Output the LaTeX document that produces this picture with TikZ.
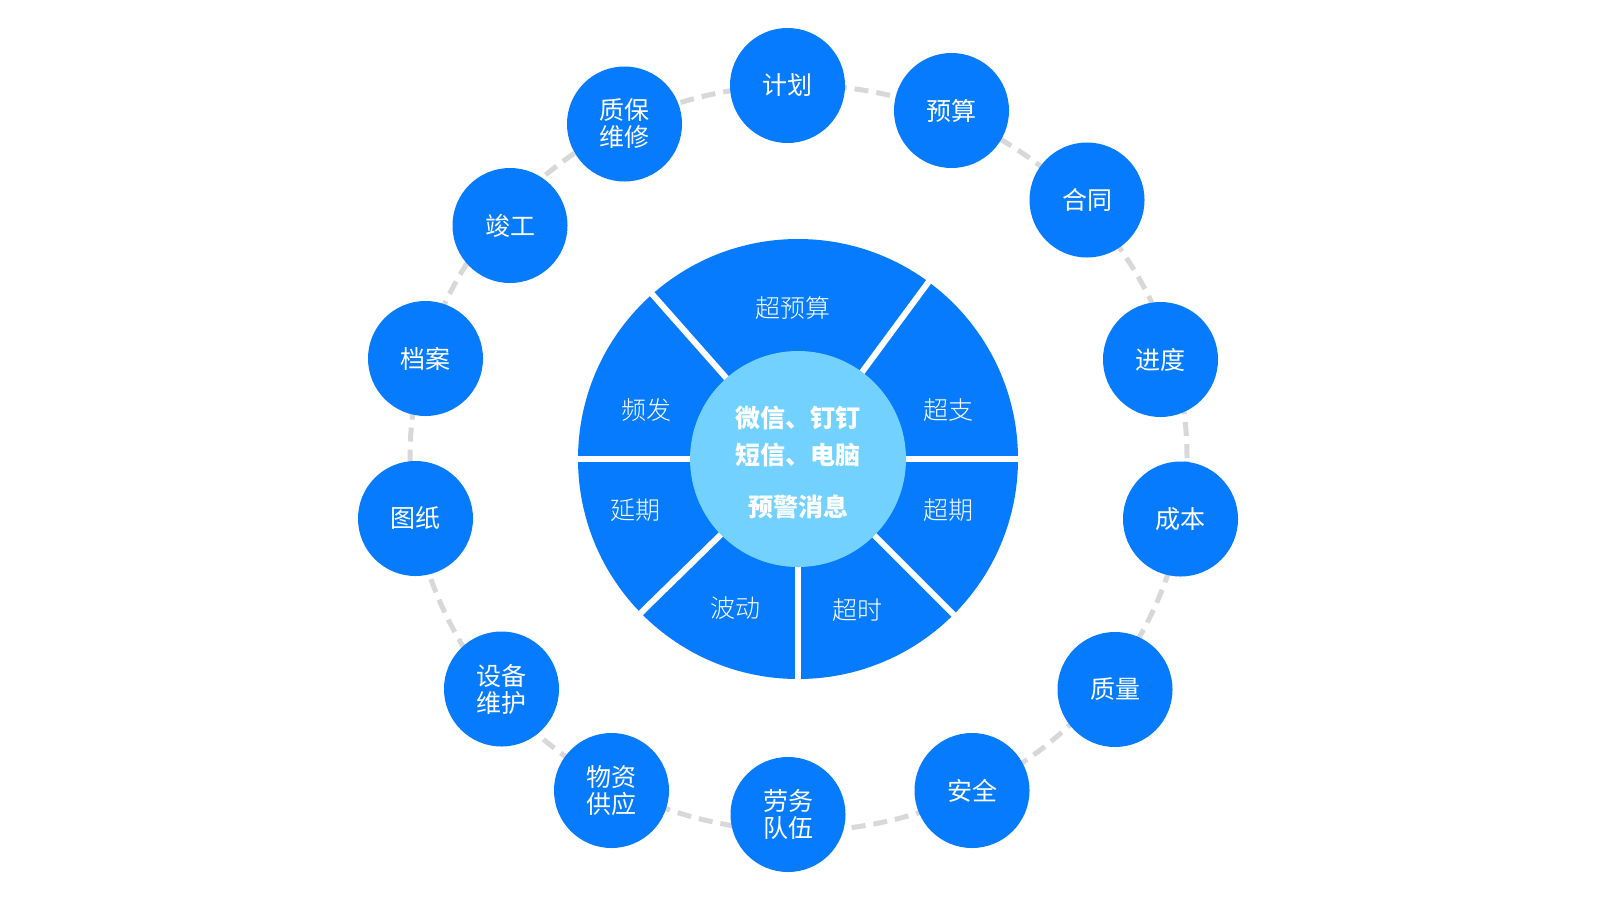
\documentclass[tikz,border=0pt]{standalone}
\usepackage{fontspec}
\newfontfamily\cjk{Noto Sans CJK SC}
\IfFontExistsTF{Noto Sans CJK SC Light}{\newfontfamily\cjkl{Noto Sans CJK SC Light}}{\let\cjkl\cjk}
\definecolor{mainblue}{HTML}{067BFE}
\definecolor{lightblue}{HTML}{72D1FE}
\definecolor{ringgray}{HTML}{D8D8D8}
\begin{document}
\begin{tikzpicture}[x=0.5pt,y=-0.5pt,
  item/.style={circle,fill=mainblue,minimum size=57.5pt,inner sep=0pt,text=white,
    font=\cjk\fontsize{12.5}{13.5}\selectfont,align=center},
  sectorlabel/.style={text=white,inner sep=0pt,font=\cjkl\fontsize{12.5}{14}\selectfont},
  hubtext/.style={text=white,inner sep=0pt,font=\cjk\bfseries\fontsize{12.5}{14}\selectfont},
  separator/.style={white,line width=3pt},
  ring/.style={ringgray,line width=2.5pt,dash pattern=on 7pt off 4pt}
]
\useasboundingbox (0,0) rectangle (1600,900);
\fill[white] (0,0) rectangle (1600,900);

% dashed ring
\draw[ring] (798.5,458) ellipse [x radius=194.25pt, y radius=186.5pt];

% wheel
\node[circle,fill=mainblue,minimum size=220pt,inner sep=0pt] (wheel) at (798,459) {};
\begin{scope}[shift={(798,459)}]
  \foreach \a in {0,-53.6,-131.5,180,135.6,90,45}
    \draw[separator] (0,0) -- (\a:230);
\end{scope}
\node[circle,fill=lightblue,minimum size=108pt,inner sep=0pt] (hub) at (798,459) {};

% sector labels
\node[sectorlabel] (s1) at (793,308) {超预算};
\node[sectorlabel] (s2) at (646,410) {频发};
\node[sectorlabel] (s3) at (948,410) {超支};
\node[sectorlabel] (s4) at (635,510) {延期};
\node[sectorlabel] (s5) at (948,510) {超期};
\node[sectorlabel] (s6) at (735,608) {波动};
\node[sectorlabel] (s7) at (857,610) {超时};

% hub text
\node[hubtext] (h1) at (798,418) {微信、钉钉};
\node[hubtext] (h2) at (798,455) {短信、电脑};
\node[hubtext] (h3) at (798,507) {预警消息};

% outer items
\node[item] (o1) at (787.5,85.5) {计划};
\node[item] (o2) at (951.5,110.5) {预算};
\node[item] (o3) at (1087,200) {合同};
\node[item] (o4) at (1160.5,359.5) {进度};
\node[item] (o5) at (1180.5,519) {成本};
\node[item] (o6) at (1115,689.5) {质量};
\node[item] (o7) at (972,790.5) {安全};
\node[item] (o8) at (788,814.5) {劳务\\队伍};
\node[item] (o9) at (611.5,790.5) {物资\\供应};
\node[item] (o10) at (501.5,689) {设备\\维护};
\node[item] (o11) at (415.5,518.5) {图纸};
\node[item] (o12) at (425.5,358.5) {档案};
\node[item] (o13) at (510,225.5) {竣工};
\node[item] (o14) at (624.5,124) {质保\\维修};
\end{tikzpicture}
\end{document}
